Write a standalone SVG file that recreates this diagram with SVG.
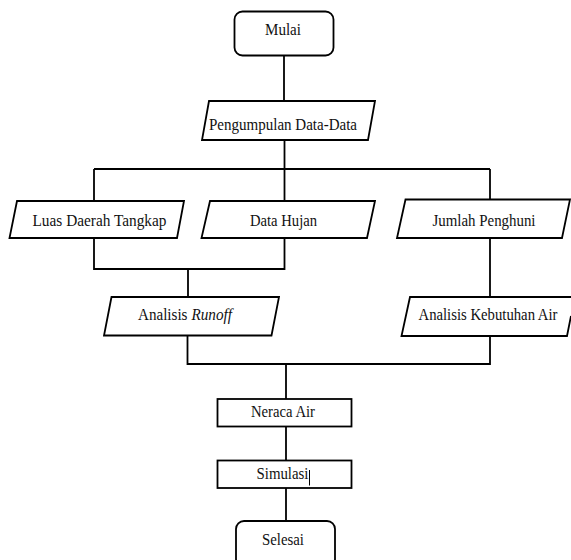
<svg xmlns="http://www.w3.org/2000/svg" width="571" height="560" viewBox="0 0 571 560">
<style>
.s{fill:#fff;stroke:#000;stroke-width:1.8}
.c{fill:none;stroke:#000;stroke-width:1.8}
.t{font-family:'Liberation Serif','Times New Roman',serif;font-size:16.5px;fill:#111;text-anchor:middle}
.l{text-anchor:start}
</style>
<rect width="571" height="560" fill="#fff"/>
<g id="connectors">
<path class="c" d="M284,56V101"/>
<path class="c" d="M284.5,140V201"/>
<path class="c" d="M94,169H490"/>
<path class="c" d="M94,169V201"/>
<path class="c" d="M490,169V199.5"/>
<path class="c" d="M94,238V269H284.5V238"/>
<path class="c" d="M188,269V297"/>
<path class="c" d="M490,238V297"/>
<path class="c" d="M187.5,335.5V364H490V336"/>
<path class="c" d="M286,364V399"/>
<path class="c" d="M286,426.5V460.5"/>
<path class="c" d="M286,488V521"/>
</g>
<g id="mulai">
<rect class="s" x="234.5" y="11.5" width="99" height="44" rx="8"/>
<text class="t" x="283" y="35" textLength="36" lengthAdjust="spacingAndGlyphs">Mulai</text>
</g>
<g id="pengumpulan">
<polygon class="s" points="209,101 375,101 368,140 202,140"/>
<text class="t" x="283" y="129.5" textLength="148" lengthAdjust="spacingAndGlyphs">Pengumpulan Data-Data</text>
</g>
<g id="luas">
<polygon class="s" points="17,201 184,201 177,238 9.5,238"/>
<text class="t" x="99.5" y="226" textLength="134" lengthAdjust="spacingAndGlyphs">Luas Daerah Tangkap</text>
</g>
<g id="hujan">
<polygon class="s" points="210,201 375,201 367,238 201.5,238"/>
<text class="t" x="283.5" y="226" textLength="67" lengthAdjust="spacingAndGlyphs">Data Hujan</text>
</g>
<g id="penghuni">
<polygon class="s" points="405.5,199.5 570,199.5 562,238 397,238"/>
<text class="t" x="484" y="226" textLength="103" lengthAdjust="spacingAndGlyphs">Jumlah Penghuni</text>
</g>
<g id="runoff">
<polygon class="s" points="111.5,297 279,297 271.5,335.5 104,335.5"/>
<text class="t l" x="138" y="319.5" textLength="49.5" lengthAdjust="spacingAndGlyphs">Analisis</text>
<text class="t l" x="191.5" y="319.5" font-style="italic" textLength="40.5" lengthAdjust="spacingAndGlyphs">Runoff</text>
</g>
<g id="kebutuhan">
<polygon fill="#fff" points="410,297 571,297 571,316 567,336 401.5,336"/>
<path class="c" d="M571,297H410L401.5,336H567L571,316"/>
<text class="t" x="488" y="320" textLength="139" lengthAdjust="spacingAndGlyphs">Analisis Kebutuhan Air</text>
</g>
<g id="neraca">
<rect class="s" x="217.5" y="399" width="134" height="27.5"/>
<text class="t" x="283" y="417" textLength="64" lengthAdjust="spacingAndGlyphs">Neraca Air</text>
</g>
<g id="simulasi">
<rect class="s" x="217.5" y="460.5" width="134" height="27.5"/>
<text class="t" x="282.5" y="478.5" textLength="52" lengthAdjust="spacingAndGlyphs">Simulasi</text>
<line x1="309.5" y1="470" x2="309.5" y2="485.5" stroke="#000" stroke-width="1"/>
</g>
<g id="selesai">
<rect class="s" x="236" y="521" width="99" height="46" rx="8"/>
<text class="t" x="283" y="545" textLength="42" lengthAdjust="spacingAndGlyphs">Selesai</text>
</g>
</svg>
